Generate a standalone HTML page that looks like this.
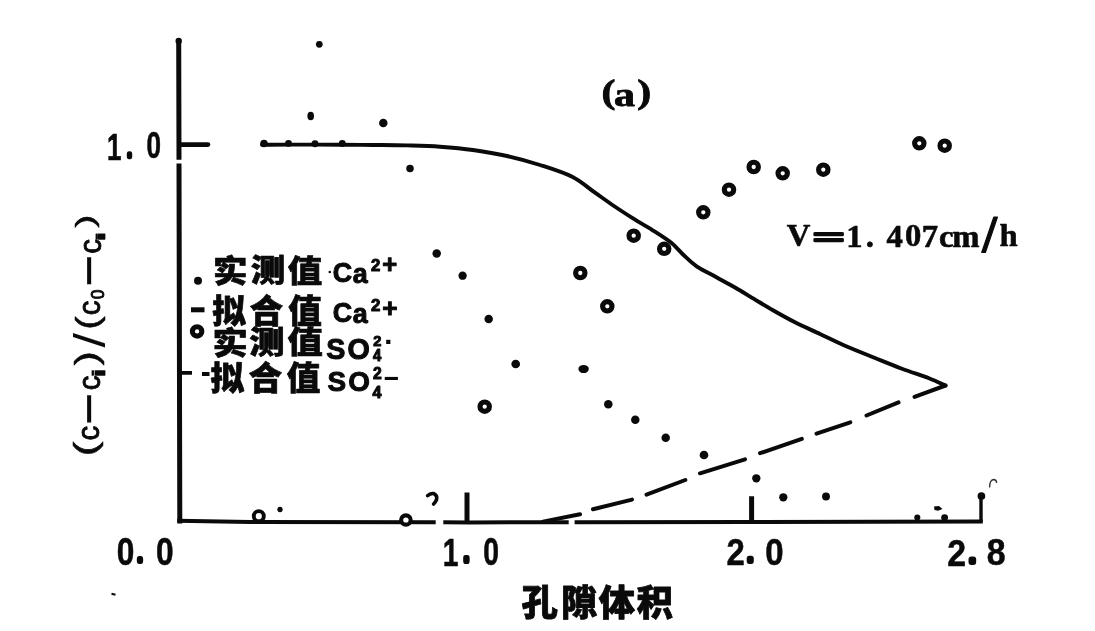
<!DOCTYPE html>
<html lang="zh"><head><meta charset="utf-8"><title>孔隙体积</title>
<style>html,body{margin:0;padding:0;background:#fff}svg{display:block}</style></head>
<body><svg width="1095" height="631" viewBox="0 0 1095 631">
<rect width="1095" height="631" fill="#fff"/>
<g stroke="#0a0a0a" fill="none" stroke-linecap="butt">
<path d="M178.7 39.5 L179 159.8 M179 163.6 L179.8 523.4" stroke-width="5"/>
<circle cx="178.7" cy="41" r="3.2" fill="#0a0a0a" stroke="none"/>
<path d="M177.3 520.8 L250 522 L435.7 522.3 M443.3 522.3 L470 522.4 L568.7 522.3 M574.6 522.3 L750 522.1 L982.8 521.5" stroke-width="4"/>
<path d="M181 144.6 H208" stroke-width="4.6" stroke-linecap="round"/>
<path d="M467 492.6 V522 M751.6 496.2 V522" stroke-width="5"/>
<path d="M981 496 V522" stroke-width="3.4"/>
<path d="M181 372.8 H192 M202 374 H209.5" stroke-width="3.8"/>
<path d="M191 309.8 H204.5" stroke-width="5"/>
<path d="M262.0 144.8 C266.7 144.8 277.0 144.6 290.0 144.6 C303.0 144.6 326.2 144.7 340.0 144.8 C353.8 144.9 361.8 144.9 373.0 145.0 C384.2 145.1 395.8 145.1 407.0 145.4 C418.2 145.7 429.0 145.9 440.0 146.7 C451.0 147.5 461.8 148.4 473.0 150.0 C484.2 151.6 495.8 153.5 507.0 156.0 C518.2 158.5 529.1 161.5 540.0 165.0 C550.9 168.5 563.0 172.2 572.2 176.8 C581.4 181.4 588.0 187.8 595.0 192.7 C602.0 197.6 607.7 201.7 614.0 206.0 C620.3 210.3 626.7 214.4 633.0 218.4 C639.3 222.4 645.7 225.8 652.0 229.8 C658.3 233.8 665.8 238.4 671.0 242.6 C676.2 246.8 679.0 250.8 683.3 254.8 C687.6 258.8 691.5 262.9 697.0 266.6 C702.5 270.3 709.7 273.5 716.0 277.0 C722.3 280.5 728.7 283.9 735.0 287.5 C741.3 291.1 747.7 295.1 754.0 298.9 C760.3 302.7 766.2 306.4 773.0 310.3 C779.8 314.2 787.2 318.4 795.0 322.3 C802.8 326.2 811.7 330.1 820.0 334.0 C828.3 337.9 835.8 341.8 845.0 345.8 C854.2 349.8 865.5 354.2 875.0 358.0 C884.5 361.8 893.0 365.3 902.0 368.7 C911.0 372.1 921.8 375.4 929.0 378.2 C936.2 381.0 942.8 384.3 945.5 385.5" stroke-width="3.9" stroke-linejoin="round" stroke-linecap="round"/>
<path d="M543 521.6 L580 514.2 M593 509.3 L632 499.6 M646.5 494.6 L685.3 480 M700 473.3 L745 459.3 M760 453.2 L801.8 438.9 M816.5 433.6 L850.3 422.3 M866.5 415.5 L898.5 402.4 M914.5 396.9 L945.5 385.5" stroke-width="4.0" stroke-linecap="round"/>
</g>
<circle cx="319.3" cy="44.3" r="3.35" fill="#0a0a0a"/>
<circle cx="383.3" cy="123" r="4.25" fill="#0a0a0a"/>
<circle cx="410" cy="168.5" r="3.75" fill="#0a0a0a"/>
<circle cx="264" cy="143.6" r="3.75" fill="#0a0a0a"/>
<circle cx="288.5" cy="143.4" r="3.45" fill="#0a0a0a"/>
<circle cx="315" cy="143.7" r="3.45" fill="#0a0a0a"/>
<circle cx="342.3" cy="143.4" r="3.45" fill="#0a0a0a"/>
<circle cx="436.7" cy="253.4" r="4.25" fill="#0a0a0a"/>
<circle cx="462.6" cy="275.7" r="4.15" fill="#0a0a0a"/>
<circle cx="488.7" cy="319" r="4.25" fill="#0a0a0a"/>
<circle cx="515.7" cy="364" r="4.35" fill="#0a0a0a"/>
<circle cx="608.3" cy="404.3" r="4.25" fill="#0a0a0a"/>
<circle cx="635.3" cy="419.7" r="4.25" fill="#0a0a0a"/>
<circle cx="665.7" cy="437.7" r="4.25" fill="#0a0a0a"/>
<circle cx="704" cy="455" r="4.35" fill="#0a0a0a"/>
<circle cx="756.3" cy="478.3" r="4.15" fill="#0a0a0a"/>
<circle cx="783.3" cy="497.3" r="4.15" fill="#0a0a0a"/>
<circle cx="826" cy="496.5" r="3.95" fill="#0a0a0a"/>
<circle cx="280" cy="509.5" r="2.65" fill="#0a0a0a"/>
<circle cx="917.3" cy="517.5" r="3.05" fill="#0a0a0a"/>
<circle cx="944.6" cy="517.6" r="3.45" fill="#0a0a0a"/>
<circle cx="981.4" cy="496" r="3.85" fill="#0a0a0a"/>
<ellipse cx="310.7" cy="116" rx="3.3" ry="4.3" fill="#0a0a0a"/>
<ellipse cx="583.6" cy="369" rx="5.2" ry="4.1" fill="#0a0a0a"/>
<circle cx="198" cy="280.7" r="4" fill="#0a0a0a"/>
<circle cx="329.8" cy="272" r="1.3" fill="#0a0a0a"/>
<path d="M111.5 593.8 l4 1" stroke="#0a0a0a" stroke-width="2.2" fill="none"/>
<circle cx="633.7" cy="235.7" r="4.7" fill="#fff" stroke="#0a0a0a" stroke-width="5.1"/>
<circle cx="664.2" cy="248.8" r="4.7" fill="#fff" stroke="#0a0a0a" stroke-width="5.1"/>
<circle cx="580.3" cy="273" r="4.7" fill="#fff" stroke="#0a0a0a" stroke-width="5.1"/>
<circle cx="607.3" cy="306.3" r="4.7" fill="#fff" stroke="#0a0a0a" stroke-width="5.1"/>
<circle cx="484.7" cy="406.7" r="4.7" fill="#fff" stroke="#0a0a0a" stroke-width="5.1"/>
<circle cx="703.3" cy="212.3" r="4.7" fill="#fff" stroke="#0a0a0a" stroke-width="5.1"/>
<circle cx="729" cy="189.7" r="4.7" fill="#fff" stroke="#0a0a0a" stroke-width="5.1"/>
<circle cx="753.7" cy="167" r="4.7" fill="#fff" stroke="#0a0a0a" stroke-width="5.1"/>
<circle cx="782.7" cy="173.3" r="4.7" fill="#fff" stroke="#0a0a0a" stroke-width="5.1"/>
<circle cx="823.3" cy="169.7" r="4.7" fill="#fff" stroke="#0a0a0a" stroke-width="5.1"/>
<circle cx="919.3" cy="143.3" r="4.7" fill="#fff" stroke="#0a0a0a" stroke-width="5.1"/>
<circle cx="944.7" cy="145.7" r="4.7" fill="#fff" stroke="#0a0a0a" stroke-width="5.1"/>
<circle cx="197.1" cy="331.4" r="4.7" fill="#fff" stroke="#0a0a0a" stroke-width="5.1"/>
<ellipse cx="258.8" cy="516.2" rx="5" ry="5.1" fill="#fff" stroke="#0a0a0a" stroke-width="3.9"/>
<ellipse cx="405.9" cy="520" rx="4.8" ry="4.6" fill="#fff" stroke="#0a0a0a" stroke-width="4.1"/>
<path d="M427.6 495.6 Q431 493 433.8 493.6 Q437.6 495.6 436.6 499.5 Q435.4 502.4 433.6 504" fill="none" stroke="#0a0a0a" stroke-width="3.6" stroke-linecap="round"/>
<path d="M989.6 487.5 q0 -8 4.5 -8 q2.5 0.5 2.5 3.5" fill="none" stroke="#333" stroke-width="1.3"/>
<path d="M934 506.5 L939 506 L942.5 509 L938 510.8 L934.5 510 Z" fill="#0a0a0a" stroke="none"/>
<g fill="#0a0a0a">
<text transform="scale(0.2606 0.3730)" x="410.2 493.3 562.0" y="428.9 417.9 424.9" font-family='"Liberation Sans", sans-serif' font-weight="bold" font-size="100" stroke="#0a0a0a" stroke-width="1.58" stroke-linejoin="round">1<tspan font-size="28.0" stroke-width="17.05">.</tspan>0</text>
<text transform="scale(0.3160 0.3908)" x="369.9 438.2 493.5" y="1446.4 1434.9 1444.8" font-family='"Liberation Sans", sans-serif' font-weight="bold" font-size="100" stroke="#0a0a0a" stroke-width="1.41" stroke-linejoin="round">0<tspan font-size="33.7" stroke-width="15.28">.</tspan>0</text>
<text transform="scale(0.2830 0.3885)" x="1564.6 1641.5 1707.6" y="1456.6 1443.9 1453.3" font-family='"Liberation Sans", sans-serif' font-weight="bold" font-size="100" stroke="#0a0a0a" stroke-width="1.49" stroke-linejoin="round">1<tspan font-size="48.8" stroke-width="16.08">.</tspan>0</text>
<text transform="scale(0.3292 0.3758)" x="2207.1 2272.8 2324.7" y="1503.7 1492.3 1503.2" font-family='"Liberation Sans", sans-serif' font-weight="bold" font-size="100" stroke="#0a0a0a" stroke-width="1.42" stroke-linejoin="round">2<tspan font-size="44.3" stroke-width="15.32">.</tspan>0</text>
<text transform="scale(0.3387 0.3709)" x="2796.9 2864.8 2913.5" y="1525.5 1514.4 1524.1" font-family='"Liberation Sans", sans-serif' font-weight="bold" font-size="100" stroke="#0a0a0a" stroke-width="1.41" stroke-linejoin="round">2<tspan font-size="44.6" stroke-width="16.35">.</tspan>8</text>
<text transform="scale(0.4205 0.3306)" x="1430.6 1460.5 1515.2" y="311.9 319.2 311.9" font-family='"Liberation Serif", serif' font-weight="bold" font-size="100" stroke="#0a0a0a" stroke-width="2.40" stroke-linejoin="round">(a)</text>
<text transform="scale(0.3268 0.3263)" x="2407.3 2485.4 2589.8 2649.0 2713.0 2769.2 2820.3 2873.4 2913.9 3005.6 3058.6" y="754.8 759.9 756.6 755.6 755.8 755.0 756.1 758.3 758.3 772.0 755.2" font-family='"Liberation Serif", serif' font-weight="bold" font-size="100" stroke="#0a0a0a" stroke-width="1.84" stroke-linejoin="round">V<tspan textLength="101.3" lengthAdjust="spacingAndGlyphs" stroke-width="6.13">=</tspan>1.407cm<tspan font-size="161.6" stroke-width="3.68">/</tspan>h</text>
<text transform="scale(0.3624 0.3624)" x="1438.7 1547.7 1652.1 1756.8" y="1698.4 1698.9 1698.4 1700.9" font-family='"Liberation Sans", "Noto Sans CJK SC", sans-serif' font-weight="900" font-size="100" stroke="#0a0a0a" stroke-width="2.21" stroke-linejoin="round">孔隙体积</text>
<text transform="scale(0.3447 0.3115)" x="617.9 727.4 835.1" y="904.4 903.4 903.9" font-family='"Liberation Sans", "Noto Sans CJK SC", sans-serif' font-weight="900" font-size="100" stroke="#0a0a0a" stroke-width="2.13" stroke-linejoin="round">实测值</text>
<text transform="scale(0.3358 0.3240)" x="631.9 743.0 858.5" y="997.8 997.3 997.3" font-family='"Liberation Sans", "Noto Sans CJK SC", sans-serif' font-weight="900" font-size="100" stroke="#0a0a0a" stroke-width="2.12" stroke-linejoin="round">拟合值</text>
<text transform="scale(0.3531 0.3038)" x="602.1 705.8 814.2" y="1163.8 1162.8 1163.6" font-family='"Liberation Sans", "Noto Sans CJK SC", sans-serif' font-weight="900" font-size="100" stroke="#0a0a0a" stroke-width="2.13" stroke-linejoin="round">实测值</text>
<text transform="scale(0.3360 0.3299)" x="626.8 739.8 853.3" y="1182.4 1180.7 1183.7" font-family='"Liberation Sans", "Noto Sans CJK SC", sans-serif' font-weight="900" font-size="100" stroke="#0a0a0a" stroke-width="2.10" stroke-linejoin="round">拟合值</text>
<text transform="scale(0.2685 0.2709)" x="1239.6 1313.8 1381.6 1424.0" y="1041.0 1044.8 999.2 1009.1" font-family='"Liberation Sans", sans-serif' font-weight="bold" font-size="100" stroke="#0a0a0a" stroke-width="3.71" stroke-linejoin="round">Ca<tspan font-size="62.4" font-weight="bold">2</tspan><tspan font-size="95.3" font-weight="bold">+</tspan></text>
<text transform="scale(0.2685 0.2695)" x="1239.6 1313.8 1381.5 1423.4" y="1196.5 1200.0 1154.9 1175.4" font-family='"Liberation Sans", sans-serif' font-weight="bold" font-size="100" stroke="#0a0a0a" stroke-width="3.72" stroke-linejoin="round">Ca<tspan font-size="62.9" font-weight="bold">2</tspan><tspan font-size="97.4" font-weight="bold">+</tspan></text>
<text transform="scale(0.2868 0.3000)" x="1137.4 1211.6 1300.7 1301.4 1344.0" y="1198.3 1198.3 1204.6 1151.9 1171.6" font-family='"Liberation Sans", sans-serif' font-weight="bold" font-size="100" stroke="#0a0a0a" stroke-width="3.41" stroke-linejoin="round">SO<tspan font-size="51.9" font-weight="bold">4</tspan><tspan font-size="51.2" font-weight="bold">2</tspan><tspan textLength="19.5" lengthAdjust="spacingAndGlyphs" font-size="116.4" stroke-width="0.03">-</tspan></text>
<text transform="scale(0.2789 0.2817)" x="1174.3 1248.8 1336.0 1337.0 1372.8" y="1388.8 1388.8 1414.1 1346.2 1365.0" font-family='"Liberation Sans", sans-serif' font-weight="bold" font-size="100" stroke="#0a0a0a" stroke-width="3.57" stroke-linejoin="round">SO<tspan font-size="57.9" font-weight="bold">4</tspan><tspan font-size="56.3" font-weight="bold">2</tspan><tspan textLength="62.0" lengthAdjust="spacingAndGlyphs" font-size="94.4" stroke-width="0.04">-</tspan></text>
<text transform="rotate(-90) scale(0.2953 0.3223)" x="-1545.4 -1492.1 -1430.7 -1321.9 -1278.1 -1238.1 -1176.9 -1116.9 -1067.3 -1013.6 -962.4 -859.6 -816.0 -771.4" y="298.4 306.1 321.8 310.7 324.3 300.5 325.5 304.3 310.7 322.0 321.8 312.4 324.3 292.3" font-family='"Liberation Sans", sans-serif' font-weight="normal" font-size="100" stroke="#0a0a0a" stroke-width="2.91" stroke-linejoin="round"><tspan textLength="50.3" lengthAdjust="spacingAndGlyphs" font-size="97.1" stroke-width="1.62">(</tspan>c<tspan textLength="91.8" lengthAdjust="spacingAndGlyphs" font-size="177.3" stroke-width="0.97">—</tspan>c<tspan textLength="31.0" lengthAdjust="spacingAndGlyphs" font-size="54.4" stroke-width="2.59">i</tspan><tspan textLength="48.6" lengthAdjust="spacingAndGlyphs" font-size="99.0" stroke-width="1.62">)</tspan><tspan textLength="49.0" lengthAdjust="spacingAndGlyphs" font-size="139.0" stroke-width="0.03">/</tspan><tspan textLength="45.5" lengthAdjust="spacingAndGlyphs" font-size="97.1" stroke-width="1.62">(</tspan>c<tspan font-size="59.4">0</tspan><tspan textLength="91.1" lengthAdjust="spacingAndGlyphs" font-size="177.3" stroke-width="0.97">—</tspan>c<tspan textLength="30.1" lengthAdjust="spacingAndGlyphs" font-size="37.4" stroke-width="2.59">i</tspan><tspan textLength="44.7" lengthAdjust="spacingAndGlyphs" font-size="80.5" stroke-width="1.62">)</tspan></text>
</g>
</svg></body></html>
